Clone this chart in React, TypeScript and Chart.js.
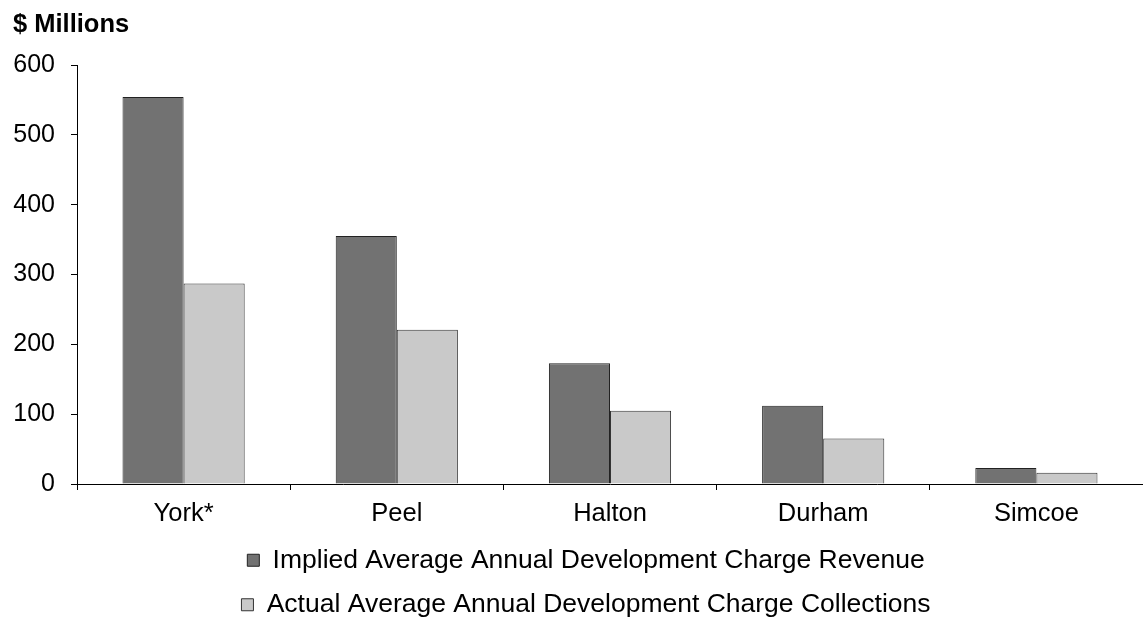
import React, { useEffect, useRef } from "react";
import { Chart, registerables } from "chart.js";

Chart.register(...registerables);

const categories = ["York*", "Peel", "Halton", "Durham", "Simcoe"];
const impliedRevenue = [554, 355, 173, 112, 23];
const actualCollections = [287, 221, 105, 65, 16];
const seriesNames = [
  "Implied Average Annual Development Charge Revenue",
  "Actual Average Annual Development Charge Collections",
];
const yTicks = [0, 100, 200, 300, 400, 500, 600];
const titleText = "$ Millions";

const FONT = "'Liberation Sans', Arial, sans-serif";

const titlePlugin = {
  id: "leftTitle",
  afterDraw(chart: any) {
    const ctx = chart.ctx;
    ctx.save();
    ctx.font = `bold 25.5px ${FONT}`;
    ctx.fillStyle = "#000";
    ctx.textAlign = "left";
    ctx.textBaseline = "alphabetic";
    ctx.fillText(titleText, 13, 32);
    ctx.restore();
  },
};

const legendShift = {
  id: "legendShift",
  afterLayout(chart: any) {
    const lg = chart.legend;
    if (lg) {
      lg.left += 8;
      lg.right += 8;
    }
  },
};

export default function App() {
  const ref = useRef<HTMLCanvasElement | null>(null);

  useEffect(() => {
    if (!ref.current) return;
    const chart = new Chart(ref.current, {
      type: "bar",
      data: {
        labels: categories,
        datasets: [
          {
            label: seriesNames[0],
            data: impliedRevenue,
            backgroundColor: "#727272",
            borderColor: "#222222",
            borderWidth: 1,
          },
          {
            label: seriesNames[1],
            data: actualCollections,
            backgroundColor: "#c9c9c9",
            borderColor: "#333333",
            borderWidth: 1,
          },
        ],
      },
      options: {
        animation: false,
        responsive: false,
        maintainAspectRatio: false,
        layout: { padding: { left: 13, right: 0, top: 65, bottom: -2 } },
        datasets: {
          bar: { categoryPercentage: 0.573, barPercentage: 1 },
        },
        scales: {
          x: {
            afterFit: (scale: any) => {
              scale.height = 45;
            },
            grid: {
              display: true,
              drawOnChartArea: false,
              drawTicks: true,
              tickLength: 6,
              color: "#000",
              offset: true,
            },
            border: { display: true, color: "#000", width: 1 },
            ticks: {
              color: "#000",
              font: { family: FONT, size: 25.5 },
              padding: 9,
              maxRotation: 0,
            },
          },
          y: {
            min: 0,
            max: 600,
            afterBuildTicks: (axis: any) => {
              axis.ticks = yTicks.map((v) => ({ value: v }));
            },
            afterFit: (scale: any) => {
              scale.width = 64;
            },
            grid: {
              display: true,
              drawOnChartArea: false,
              drawTicks: true,
              tickLength: 6,
              color: "#000",
            },
            border: { display: true, color: "#000", width: 1 },
            ticks: {
              color: "#000",
              font: { family: FONT, size: 25 },
              padding: 16,
            },
          },
        },
        plugins: {
          title: { display: false },
          tooltip: { enabled: false },
          legend: {
            display: true,
            position: "bottom",
            labels: {
              color: "#000",
              font: { family: FONT, size: 26.5 },
              boxWidth: 12,
              boxHeight: 12,
              padding: 18,
            },
          },
        },
      },
      plugins: [titlePlugin, legendShift],
    });
    return () => chart.destroy();
  }, []);

  return (
    <div style={{ position: "absolute", left: 0, top: 0, width: 1143, height: 626, background: "#fff" }}>
      <canvas ref={ref} width={1143} height={626} style={{ display: "block" }} />
    </div>
  );
}
